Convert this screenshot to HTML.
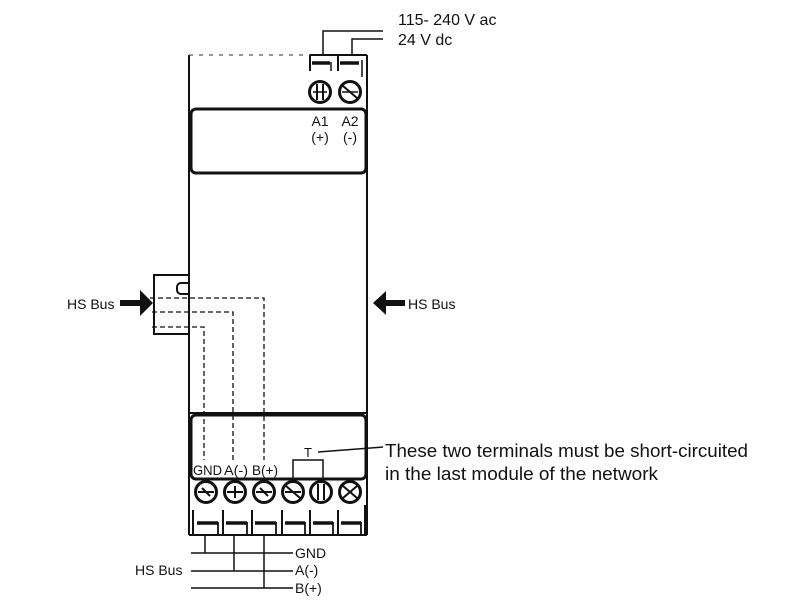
<!DOCTYPE html>
<html>
<head>
<meta charset="utf-8">
<style>
  html,body{margin:0;padding:0;background:#fff;}
  svg{display:block;}
  text{font-family:"Liberation Sans",Arial,sans-serif;fill:#111;}
</style>
</head>
<body>
<svg width="800" height="600" viewBox="0 0 800 600" xmlns="http://www.w3.org/2000/svg">
  <g fill="none" stroke="#111" stroke-linecap="butt">
    <!-- main box -->
    <line x1="189" y1="55" x2="189" y2="535" stroke-width="2"/>
    <line x1="367" y1="55" x2="367" y2="535" stroke-width="2"/>
    <line x1="189" y1="535" x2="367" y2="535" stroke-width="2"/>
    <line x1="189" y1="55" x2="310" y2="55" stroke-width="1.2" stroke="#555" stroke-dasharray="4,6"/>
    <line x1="310" y1="55" x2="367" y2="55" stroke-width="2"/>

    <!-- top terminal slots -->
    <line x1="310" y1="55" x2="310" y2="71" stroke-width="2"/>
    <line x1="312" y1="63" x2="330" y2="63" stroke-width="3.5"/>
    <line x1="331" y1="62" x2="331" y2="71" stroke-width="1.5"/>
    <line x1="338" y1="55" x2="338" y2="71" stroke-width="2"/>
    <line x1="340" y1="63" x2="359" y2="63" stroke-width="3.5"/>
    <line x1="362" y1="60" x2="362" y2="77" stroke-width="1.5"/>

    <!-- supply wires -->
    <polyline points="323,55 323,31 383,31" stroke-width="1.5"/>
    <polyline points="352,55 352,39 383,39" stroke-width="1.5"/>

    <!-- A1 / A2 screws -->
    <circle cx="320" cy="92" r="10.5" stroke-width="3"/>
    <line x1="317" y1="84" x2="317" y2="100" stroke-width="2"/>
    <line x1="323" y1="84" x2="323" y2="100" stroke-width="2"/>
    <line x1="313" y1="92" x2="327" y2="92" stroke-width="1.5"/>
    <circle cx="350" cy="92" r="10.5" stroke-width="3"/>
    <line x1="343" y1="86" x2="357" y2="98" stroke-width="2"/>
    <line x1="342" y1="92" x2="358" y2="92" stroke-width="1.5"/>

    <!-- upper panel -->
    <rect x="191" y="109" width="175" height="64" rx="5" stroke-width="3"/>

    <!-- lower panel -->
    <line x1="189" y1="413" x2="367" y2="413" stroke-width="2"/>
    <rect x="191" y="415" width="175" height="64" rx="5" stroke-width="3"/>

    <!-- left connector bracket -->
    <polyline points="188,275 154,275 154,334 188,334" stroke-width="2"/>
    <path d="M188,283 H181 a4,4 0 0 0 -4,4 V290 a4,4 0 0 0 4,4 H188" stroke-width="2"/>

    <!-- dashed internal bus lines -->
    <g stroke-width="1.3" stroke-dasharray="5,3">
      <polyline points="150,298 264,298 264,460"/>
      <polyline points="152,312 233,312 233,460"/>
      <polyline points="152,327 204,327 204,460"/>
    </g>

    <!-- T box and leader -->
    <polyline points="293,479 293,460 323,460 323,479" stroke-width="1.5"/>
    <line x1="318" y1="452" x2="383" y2="447" stroke-width="1.5"/>

    <!-- bottom screws -->
    <g stroke-width="3">
      <circle cx="206" cy="492" r="10.5"/>
      <circle cx="235" cy="492" r="10.5"/>
      <circle cx="264" cy="492" r="10.5"/>
      <circle cx="293" cy="492" r="10.5"/>
      <circle cx="321" cy="492" r="10.5"/>
      <circle cx="350" cy="492" r="10.5"/>
    </g>
    <g stroke-width="2">
      <line x1="198" y1="492" x2="214" y2="492"/>
      <line x1="202" y1="488" x2="210" y2="496"/>
      <line x1="227" y1="492" x2="243" y2="492"/>
      <line x1="235" y1="486" x2="235" y2="498"/>
      <line x1="256" y1="492" x2="272" y2="492"/>
      <line x1="260" y1="488" x2="268" y2="496"/>
      <line x1="286" y1="486" x2="300" y2="498"/>
      <line x1="285" y1="492" x2="301" y2="492"/>
      <line x1="318" y1="484" x2="318" y2="500"/>
      <line x1="324" y1="484" x2="324" y2="500"/>
      <line x1="343" y1="486" x2="357" y2="498"/>
      <line x1="343" y1="498" x2="357" y2="486"/>
    </g>

    <!-- bottom terminal slots -->
    <g stroke-width="2">
      <line x1="193" y1="510" x2="193" y2="535"/>
      <line x1="223" y1="510" x2="223" y2="535"/>
      <line x1="252" y1="510" x2="252" y2="535"/>
      <line x1="282" y1="510" x2="282" y2="535"/>
      <line x1="310" y1="510" x2="310" y2="535"/>
      <line x1="338" y1="510" x2="338" y2="535"/>
      <line x1="365" y1="505" x2="365" y2="535"/>
    </g>
    <g stroke-width="3.5">
      <line x1="197" y1="523" x2="218" y2="523"/>
      <line x1="226" y1="523" x2="247" y2="523"/>
      <line x1="255" y1="523" x2="276" y2="523"/>
      <line x1="285" y1="523" x2="305" y2="523"/>
      <line x1="313" y1="523" x2="333" y2="523"/>
      <line x1="341" y1="523" x2="361" y2="523"/>
    </g>
    <g stroke-width="1.8">
      <line x1="218" y1="522" x2="218" y2="535"/>
      <line x1="247" y1="522" x2="247" y2="535"/>
      <line x1="276" y1="522" x2="276" y2="535"/>
      <line x1="305" y1="522" x2="305" y2="535"/>
      <line x1="333" y1="522" x2="333" y2="535"/>
      <line x1="361" y1="522" x2="361" y2="535"/>
    </g>

    <!-- external bus wires -->
    <g stroke-width="1.5">
      <line x1="205" y1="535" x2="205" y2="553"/>
      <line x1="234" y1="535" x2="234" y2="571"/>
      <line x1="264" y1="535" x2="264" y2="588"/>
      <line x1="191" y1="553" x2="293" y2="553"/>
      <line x1="191" y1="571" x2="293" y2="571"/>
      <line x1="191" y1="588" x2="293" y2="588"/>
    </g>
  </g>

  <!-- arrows -->
  <g fill="#111">
    <rect x="120" y="300" width="21" height="6"/>
    <polygon points="140,290 140,316 153,303"/>
    <polygon points="373,303 386,291 386,315"/>
    <rect x="385" y="300" width="20" height="6"/>
  </g>

  <!-- texts -->
  <text x="398" y="25" font-size="16">115- 240 V ac</text>
  <text x="398" y="45" font-size="16">24 V dc</text>

  <text x="320" y="126" font-size="14" text-anchor="middle">A1</text>
  <text x="320" y="142" font-size="14" text-anchor="middle">(+)</text>
  <text x="350" y="126" font-size="14" text-anchor="middle">A2</text>
  <text x="350" y="142" font-size="14" text-anchor="middle">(-)</text>

  <text x="67" y="309" font-size="14">HS Bus</text>
  <text x="408" y="309" font-size="14">HS Bus</text>

  <text x="308" y="457" font-size="13" text-anchor="middle">T</text>
  <text x="193" y="475" font-size="13.5" textLength="29" lengthAdjust="spacingAndGlyphs">GND</text>
  <text x="224" y="475" font-size="13.5" textLength="24" lengthAdjust="spacingAndGlyphs">A(-)</text>
  <text x="252" y="475" font-size="13.5" textLength="26" lengthAdjust="spacingAndGlyphs">B(+)</text>

  <text x="385" y="457" font-size="18.5" textLength="363" lengthAdjust="spacingAndGlyphs">These two terminals must be short-circuited</text>
  <text x="385" y="480" font-size="18.5" textLength="273" lengthAdjust="spacingAndGlyphs">in the last module of the network</text>

  <text x="135" y="575" font-size="14">HS Bus</text>
  <text x="295" y="558" font-size="14">GND</text>
  <text x="295" y="575" font-size="14">A(-)</text>
  <text x="295" y="593" font-size="14">B(+)</text>
</svg>
</body>
</html>
